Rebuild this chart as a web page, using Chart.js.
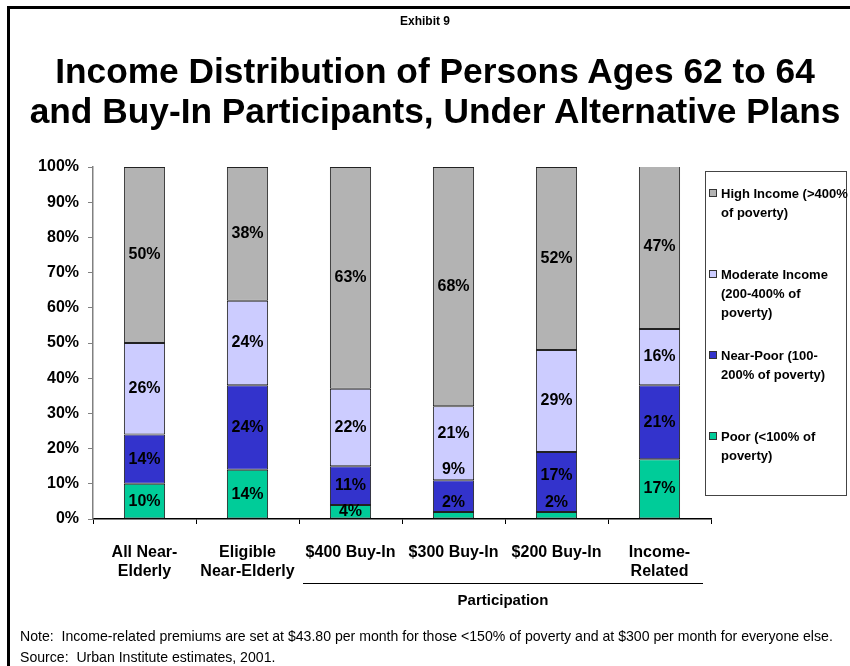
<!DOCTYPE html>
<html>
<head>
<meta charset="utf-8">
<script src="https://cdn.jsdelivr.net/npm/chart.js@4/dist/chart.umd.min.js"></script>
<style>
  html, body { margin: 0; padding: 0; background: #fff; }
  #page { position: relative; width: 850px; height: 666px; overflow: hidden; font-family: "Liberation Sans", Arial, sans-serif; color: #000; }
  #frame { position: absolute; left: 7px; top: 6px; width: 900px; height: 700px; border-left: 3px solid #000; border-top: 3px solid #000; }
  canvas { position: absolute; left: 0; top: 0; }
  .txt { position: absolute; white-space: nowrap; }
  #exhibit { left: 0; width: 850px; top: 14px; text-align: center; font-weight: bold; font-size: 12px; }
  #title { left: 10px; width: 850px; top: 51px; text-align: center; font-weight: bold; font-size: 35.3px; line-height: 40px; }
  #legend { position: absolute; left: 705px; top: 171px; width: 142px; height: 325px; border: 1px solid #444; box-sizing: border-box; }
  .item { position: absolute; left: 3px; font-weight: bold; font-size: 13px; line-height: 19px; }
  .sw { position: absolute; left: 0; top: 5px; width: 8px; height: 8px; border: 1px solid #333; box-sizing: border-box; }
  .lbl { position: absolute; left: 12px; top: 0; white-space: nowrap; }
  #partLine { position: absolute; left: 303px; top: 583px; width: 400px; border-top: 1px solid #000; }
  #partText { left: 303px; width: 400px; top: 591px; text-align: center; font-weight: bold; font-size: 15px; }
  #note { left: 20px; top: 626px; font-size: 14.1px; line-height: 21px; }
</style>
</head>
<body>
<div id="page">
  <canvas id="chart" width="850" height="666"></canvas>
  <div id="frame"></div>
  <div class="txt" id="exhibit">Exhibit 9</div>
  <div class="txt" id="title">Income Distribution of Persons Ages 62 to 64<br>and Buy-In Participants, Under Alternative Plans</div>
  <div id="legend"></div>
  <div id="partLine"></div>
  <div class="txt" id="partText">Participation</div>
  <div class="txt" id="note">Note:&nbsp; Income-related premiums are set at $43.80 per month for those &lt;150% of poverty and at $300 per month for everyone else.<br>Source:&nbsp; Urban Institute estimates, 2001.</div>
</div>
<script>
// Categories (x axis, multi-line labels)
const categories = [
  ['All Near-', 'Elderly'],
  ['Eligible', 'Near-Elderly'],
  ['$400 Buy-In'],
  ['$300 Buy-In'],
  ['$200 Buy-In'],
  ['Income-', 'Related']
];

// Share of persons in each income group (%)
const poor        = [10, 14, 4, 2, 2, 17];
const nearPoor    = [14, 24, 11, 9, 17, 21];
const moderate    = [26, 24, 22, 21, 29, 16];
const highIncome  = [50, 38, 63, 68, 52, 47];

// Legend text, split into the lines shown in the legend box
const poorName     = ['Poor (<100% of', 'poverty)'];
const nearPoorName = ['Near-Poor (100-', '200% of poverty)'];
const moderateName = ['Moderate Income', '(200-400% of', 'poverty)'];
const highName     = ['High Income (>400%', 'of poverty)'];

const yTicks = [0, 10, 20, 30, 40, 50, 60, 70, 80, 90, 100];

const FONT = '"Liberation Sans", Arial, sans-serif';

const series = [
  { name: poorName,     data: poor,       color: '#00cc99' },
  { name: nearPoorName, data: nearPoor,   color: '#3333cc' },
  { name: moderateName, data: moderate,   color: '#ccccff' },
  { name: highName,     data: highIncome, color: '#b3b3b3' }
];

// Small label shifts (px) where segments are too thin for their value text
const labelShift = { '3-0': -13, '3-1': -27, '3-2': -10, '4-0': -13, '4-1': -6 };

const valueLabels = {
  id: 'valueLabels',
  afterDatasetsDraw(chart) {
    const ctx = chart.ctx;
    ctx.save();
    ctx.font = 'bold 16px ' + FONT;
    ctx.fillStyle = '#000';
    ctx.textAlign = 'center';
    ctx.textBaseline = 'middle';
    chart.data.datasets.forEach((ds, di) => {
      const meta = chart.getDatasetMeta(di);
      meta.data.forEach((bar, i) => {
        const shift = labelShift[i + '-' + di] || 0;
        const y = (bar.y + bar.base) / 2 + shift;
        ctx.fillText(ds.data[i] + '%', bar.x, y);
      });
    });
    ctx.restore();
  }
};

const chart = new Chart(document.getElementById('chart'), {
  type: 'bar',
  data: {
    labels: categories,
    datasets: series.map(s => ({
      label: s.name.join(' '),
      data: s.data,
      backgroundColor: s.color,
      borderColor: '#222',
      borderWidth: 1,
      borderSkipped: false,
      barPercentage: 0.8,
      categoryPercentage: 0.5
    }))
  },
  options: {
    responsive: false,
    animation: false,
    events: [],
    layout: { padding: { left: 0, top: 167, right: 139, bottom: 0 } },
    plugins: { legend: { display: false }, title: { display: false }, tooltip: { enabled: false } },
    scales: {
      x: {
        stacked: true,
        grid: { display: true, drawOnChartArea: false, drawTicks: true, tickLength: 5, color: '#000', offset: true },
        border: { display: true, color: '#000', width: 1.5 },
        ticks: { color: '#000', font: { family: FONT, size: 16, weight: 'bold', lineHeight: 1.2 }, padding: 19, maxRotation: 0, autoSkip: false },
        afterFit(scale) { scale.height = 147; }
      },
      y: {
        stacked: true,
        min: 0,
        max: 100,
        afterBuildTicks(scale) { scale.ticks = yTicks.map(v => ({ value: v })); },
        grid: { display: true, drawOnChartArea: false, drawTicks: true, tickLength: 5, color: '#808080' },
        border: { display: true, color: '#808080', width: 1.5 },
        ticks: { color: '#000', font: { family: FONT, size: 16, weight: 'bold' }, padding: 9, callback: v => v + '%' },
        afterFit(scale) { scale.width = 93; }
      }
    }
  },
  plugins: [valueLabels]
});

// Legend: highest income group listed first
const legend = document.getElementById('legend');
series.slice().reverse().forEach((s, k) => {
  const item = document.createElement('div');
  item.className = 'item';
  item.style.top = (12 + 81 * k) + 'px';
  const sw = document.createElement('div');
  sw.className = 'sw';
  sw.style.background = s.color;
  const lbl = document.createElement('div');
  lbl.className = 'lbl';
  lbl.innerHTML = s.name.map(t => t.replace(/&/g, '&amp;').replace(/</g, '&lt;').replace(/>/g, '&gt;')).join('<br>');
  item.appendChild(sw);
  item.appendChild(lbl);
  legend.appendChild(item);
});
</script>
</body>
</html>
